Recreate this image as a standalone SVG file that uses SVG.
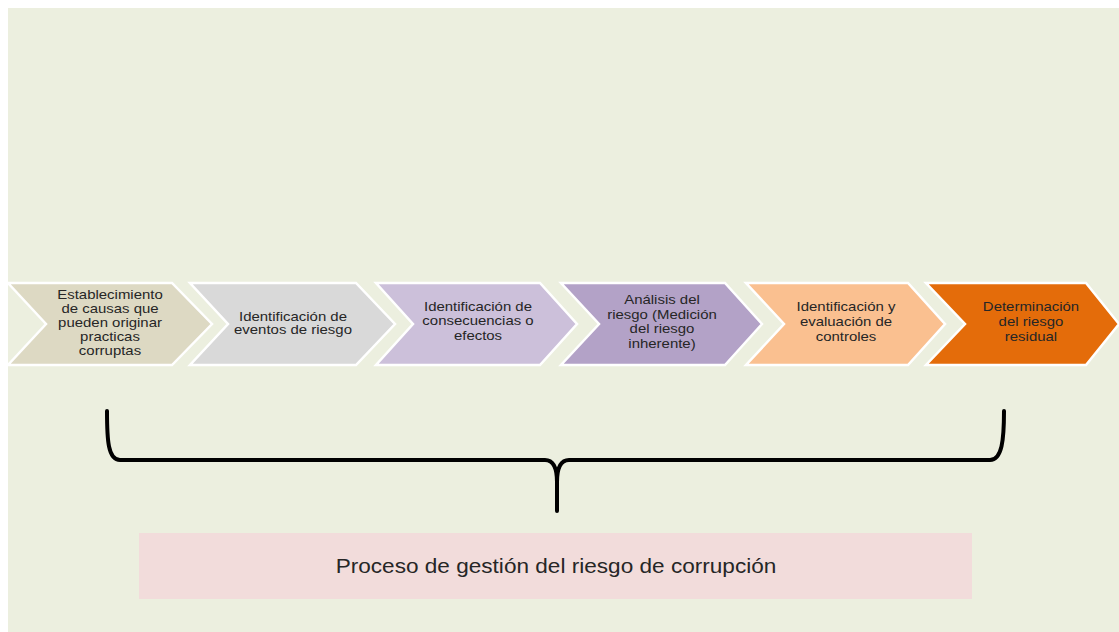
<svg xmlns="http://www.w3.org/2000/svg" width="1119" height="632" viewBox="0 0 1119 632">
<style>
.chev{stroke:#ffffff;stroke-width:2.5;stroke-linejoin:miter}
.lbl{font-family:"Liberation Sans",Arial,sans-serif;font-size:13px;fill:#262626;text-anchor:middle}
.big{font-family:"Liberation Sans",Arial,sans-serif;font-size:20px;fill:#262626;text-anchor:middle}
.brace{fill:none;stroke:#000000;stroke-width:4;stroke-linecap:round;stroke-linejoin:round}
</style>
<rect x="0" y="0" width="1119" height="632" fill="#ffffff"/>
<rect x="8" y="8" width="1111" height="624" fill="#ECEFDF"/>
<g id="n1">
<polygon class="chev" fill="#DDD9C3" points="8,283 172,283 212,324 172,365 8,365 46,324"/>
<text class="lbl" transform="matrix(1.15 0 0 1 110 0)"><tspan x="0" y="299.5">Establecimiento</tspan><tspan x="0" y="313.5">de causas que</tspan><tspan x="0" y="327.5">pueden  originar</tspan><tspan x="0" y="341.5">practicas</tspan><tspan x="0" y="355.5">corruptas</tspan></text>
</g>
<g id="n2">
<polygon class="chev" fill="#D9D9D9" points="190,283 356,283 395,324 356,365 190,365 228,324"/>
<text class="lbl" transform="matrix(1.15 0 0 1 293 0)"><tspan x="0" y="320.5">Identificación de</tspan><tspan x="0" y="334.5">eventos de riesgo</tspan></text>
</g>
<g id="n3">
<polygon class="chev" fill="#CCC0DA" points="376,283 540,283 577,324 540,365 376,365 413,324"/>
<text class="lbl" transform="matrix(1.15 0 0 1 478 0)"><tspan x="0" y="311.5">Identificación de</tspan><tspan x="0" y="325.5">consecuencias o</tspan><tspan x="0" y="340">efectos</tspan></text>
</g>
<g id="n4">
<polygon class="chev" fill="#B3A2C7" points="561,283 725,283 762,324 725,365 561,365 599,324"/>
<text class="lbl" transform="matrix(1.15 0 0 1 662 0)"><tspan x="0" y="304.5">Análisis del</tspan><tspan x="0" y="319">riesgo (Medición</tspan><tspan x="0" y="333.5">del riesgo</tspan><tspan x="0" y="348">inherente)</tspan></text>
</g>
<g id="n5">
<polygon class="chev" fill="#FAC090" points="746,283 908,283 945,324 908,365 746,365 784,324"/>
<text class="lbl" transform="matrix(1.15 0 0 1 846 0)"><tspan x="0" y="311.5">Identificación y</tspan><tspan x="0" y="326">evaluación de</tspan><tspan x="0" y="341">controles</tspan></text>
</g>
<g id="n6">
<polygon class="chev" fill="#E46C0A" points="926,283 1086,283 1119,324 1086,365 926,365 965,324"/>
<text class="lbl" transform="matrix(1.15 0 0 1 1031 0)"><tspan x="0" y="311.5">Determinación</tspan><tspan x="0" y="326">del riesgo</tspan><tspan x="0" y="341">residual</tspan></text>
</g>
<g id="connectors">
<path class="brace" d="M107,411 C107,440 108,460 120,460 L545,460 Q557,460 557,482 L557,511 M557,482 Q557,460 569,460 L990,460 C1002,460 1004,440 1004,411"/>
</g>
<g id="label">
<rect x="139" y="533" width="833" height="66" fill="#F2DCDB"/>
<text class="big" transform="matrix(1.13 0 0 1 556 0)" x="0" y="573">Proceso de gestión del riesgo de corrupción</text>
</g>
</svg>
